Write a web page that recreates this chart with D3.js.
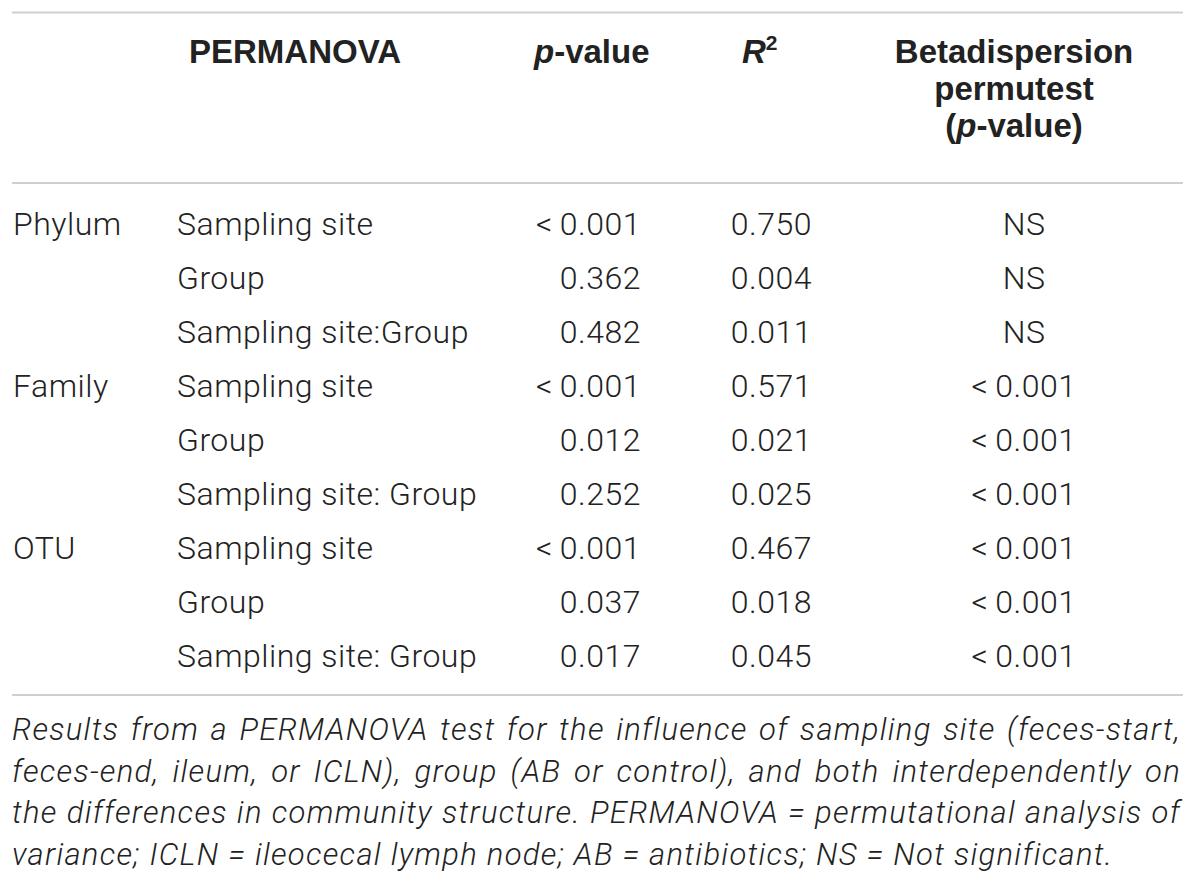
<!DOCTYPE html>
<html>
<head>
<meta charset="utf-8">
<script src="https://cdn.jsdelivr.net/npm/d3@7"></script>
<style>
  body { margin: 0; background: #fff; }
  text { fill: #222; }
  .body { font-family: Roboto, "Liberation Sans", sans-serif; font-weight: 300; font-size: 32px; letter-spacing: 0.5px; }
  .head { font-family: "Liberation Sans", Arial, sans-serif; font-weight: bold; font-size: 33px; }
  .caption { font-family: Roboto, "Liberation Sans", sans-serif; font-weight: 300; font-style: italic; font-size: 31px; letter-spacing: 1.3px; }
</style>
</head>
<body>
<script>
// table data
const levels = ["Phylum", "", "", "Family", "", "", "OTU", "", ""];
const terms = ["Sampling site", "Group", "Sampling site:Group",
               "Sampling site", "Group", "Sampling site: Group",
               "Sampling site", "Group", "Sampling site: Group"];
const pValues = ["<\u20090.001", "0.362", "0.482", "<\u20090.001", "0.012", "0.252", "<\u20090.001", "0.037", "0.017"];
const r2Values = ["0.750", "0.004", "0.011", "0.571", "0.021", "0.025", "0.467", "0.018", "0.045"];
const betaValues = ["NS", "NS", "NS", "<\u20090.001", "<\u20090.001", "<\u20090.001", "<\u20090.001", "<\u20090.001", "<\u20090.001"];
const captionLines = [
  "Results from a PERMANOVA test for the influence of sampling site (feces-start,",
  "feces-end, ileum, or ICLN), group (AB or control), and both interdependently on",
  "the differences in community structure. PERMANOVA = permutational analysis of",
  "variance; ICLN = ileocecal lymph node; AB = antibiotics; NS = Not significant."
];

const width = 1200, height = 886;
const left = 12, right = 1183;

const svg = d3.select("body").append("svg")
    .attr("width", width)
    .attr("height", height);

// row baselines
const y = d3.scaleLinear().domain([0, terms.length - 1]).range([235, 667]);

// rules
const rules = [12.5, 183, 695];
svg.append("g").selectAll("line")
    .data(rules)
    .join("line")
    .attr("x1", left).attr("x2", right)
    .attr("y1", d => d).attr("y2", d => d)
    .attr("stroke", "#cfcfcf")
    .attr("stroke-width", 2);

// header
const head = svg.append("g").attr("class", "head");
head.append("text").attr("x", 189).attr("y", 63).text("PERMANOVA");

const pv = head.append("text").attr("x", 534).attr("y", 63);
pv.append("tspan").attr("font-style", "italic").text("p");
pv.append("tspan").text("-value");

const r2 = head.append("text").attr("x", 742).attr("y", 63);
r2.append("tspan").attr("font-style", "italic").text("R");
r2.append("tspan").attr("font-size", 21).attr("dy", -13).text("2");

const betaHead = head.append("g").attr("text-anchor", "middle");
betaHead.append("text").attr("x", 1014).attr("y", 63).text("Betadispersion");
betaHead.append("text").attr("x", 1014).attr("y", 100).text("permutest");
const bp = betaHead.append("text").attr("x", 1014).attr("y", 137);
bp.append("tspan").text("(");
bp.append("tspan").attr("font-style", "italic").text("p");
bp.append("tspan").text("-value)");

// body columns
const columns = [
  { values: levels, x: 13, anchor: "start" },
  { values: terms, x: 177, anchor: "start" },
  { values: pValues, x: 641, anchor: "end" },
  { values: r2Values, x: 812, anchor: "end" },
  { values: betaValues, x: 1024, anchor: "middle" }
];

const bodyG = svg.append("g").attr("class", "body");
columns.forEach(col => {
  bodyG.append("g")
      .attr("text-anchor", col.anchor)
    .selectAll("text")
    .data(col.values)
    .join("text")
      .attr("x", col.x)
      .attr("y", (d, i) => y(i))
      .text(d => d);
});

// caption, justified except the last line
const capY = d3.scaleLinear().domain([0, captionLines.length - 1]).range([740, 865]);
const capG = svg.append("g").attr("class", "caption");
captionLines.forEach((line, i) => {
  const t = capG.append("text")
      .attr("x", left)
      .attr("y", capY(i))
      .text(line);
  if (i < captionLines.length - 1) {
    const w = t.node().getComputedTextLength();
    const gaps = line.split(" ").length - 1;
    t.style("word-spacing", ((right - 2 - left - w) / gaps) + "px");
  }
});
</script>
</body>
</html>
